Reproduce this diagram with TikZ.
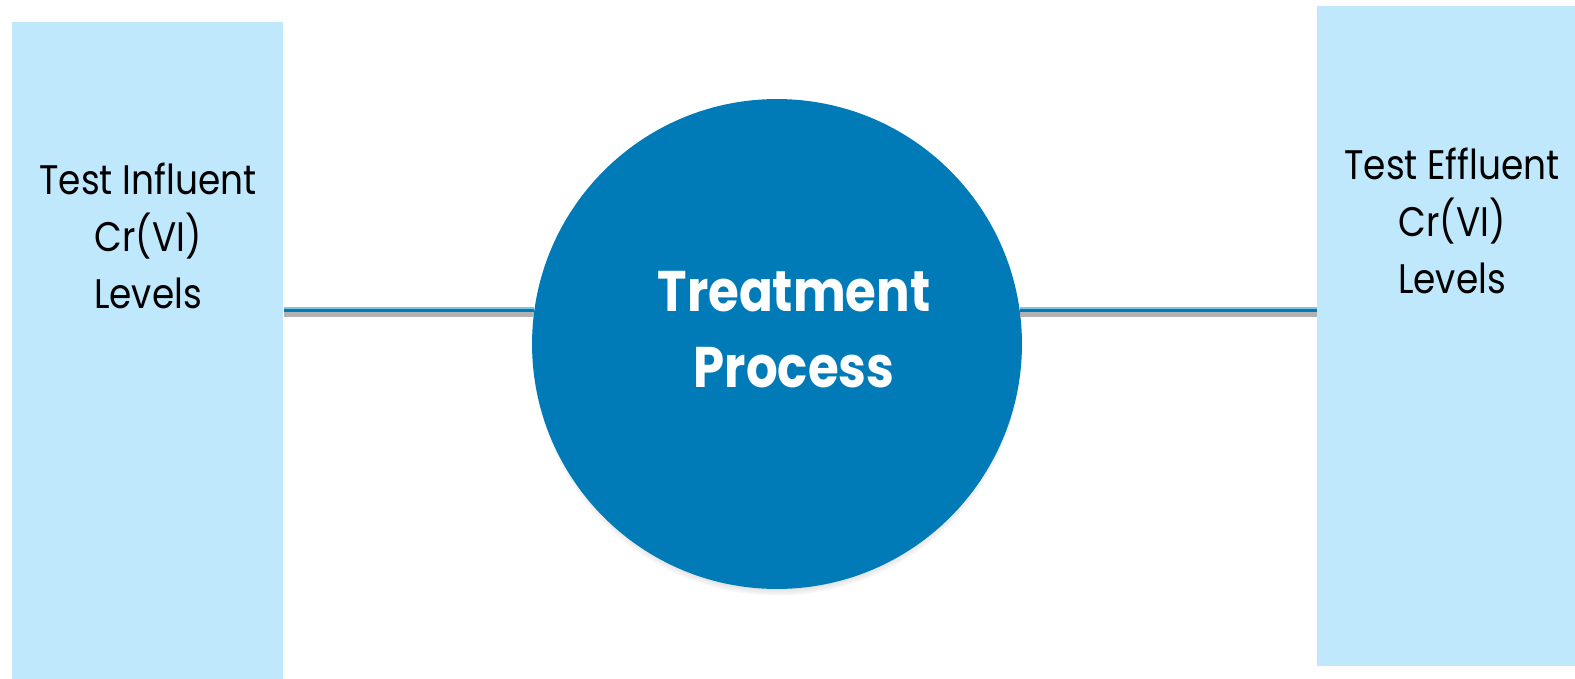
\documentclass[tikz,border=0pt]{standalone}
\usepackage{fontspec}
\usepackage{tikz}
\usetikzlibrary{shadows}
\newfontfamily\gothic[FakeStretch=0.87]{Poppins}
\definecolor{boxblue}{RGB}{192,232,252}
\definecolor{deepblue}{RGB}{0,123,184}
\definecolor{rimblue}{RGB}{130,195,228}

\tikzset{
	levelbox/.style={fill=boxblue, draw=none, inner sep=0pt, anchor=north west},
	leveltext/.style={font=\gothic\fontsize{23.5}{32.2}\selectfont, align=center, anchor=base, inner sep=0pt},
	processdisc/.style={circle, fill=deepblue, inner sep=0pt, minimum size=9.8cm,
		circular drop shadow={shadow xshift=0cm, shadow yshift=-0.13cm, shadow scale=1, fill=black, opacity=0.55}},
	processtext/.style={font=\gothic\bfseries\fontsize{32.6}{42.7}\selectfont, text=white, align=center, anchor=base, inner sep=0pt},
	flowshade/.style={line width=0.11cm, color=black!30, transform canvas={yshift=-0.08cm}},
	flowrim/.style={line width=0.1cm, color=rimblue},
	flowline/.style={line width=0.075cm, color=deepblue, transform canvas={yshift=-0.012cm}}
}

\begin{document}
\begin{tikzpicture}[x=0.02cm, y=-0.02cm]
		%%%%% START %%%%%
		\useasboundingbox (0, 0) rectangle (1575, 679);
		
		\node[levelbox, minimum width=5.42cm, minimum height=13.14cm] (influent) at (12, 22) {};
		\node[levelbox, minimum width=5.16cm, minimum height=13.2cm] (effluent) at (1317, 6) {};
		
		\node[processdisc] (process) at (777, 344) {};
		
		\draw[flowshade] (influent.east |- process.172) -- (process.172);
		\draw[flowrim] (influent.east |- process.172) -- (process.172);
		\draw[flowline] (influent.east |- process.172) -- (process.172);
		
		\draw[flowshade] (process.8) -- (effluent.west |- process.8);
		\draw[flowrim] (process.8) -- (effluent.west |- process.8);
		\draw[flowline] (process.8) -- (effluent.west |- process.8);
		
		\node[leveltext] (influenttext) at (148, 308) {Test Influent\\Cr(VI)\\Levels};
		\node[leveltext] (effluenttext) at (1452, 293) {Test Effluent\\Cr(VI)\\Levels};
		\node[processtext] (processtext) at (794, 387) {Treatment\\Process};
		
		%%%%% END %%%%%
	\end{tikzpicture}
\end{document}
